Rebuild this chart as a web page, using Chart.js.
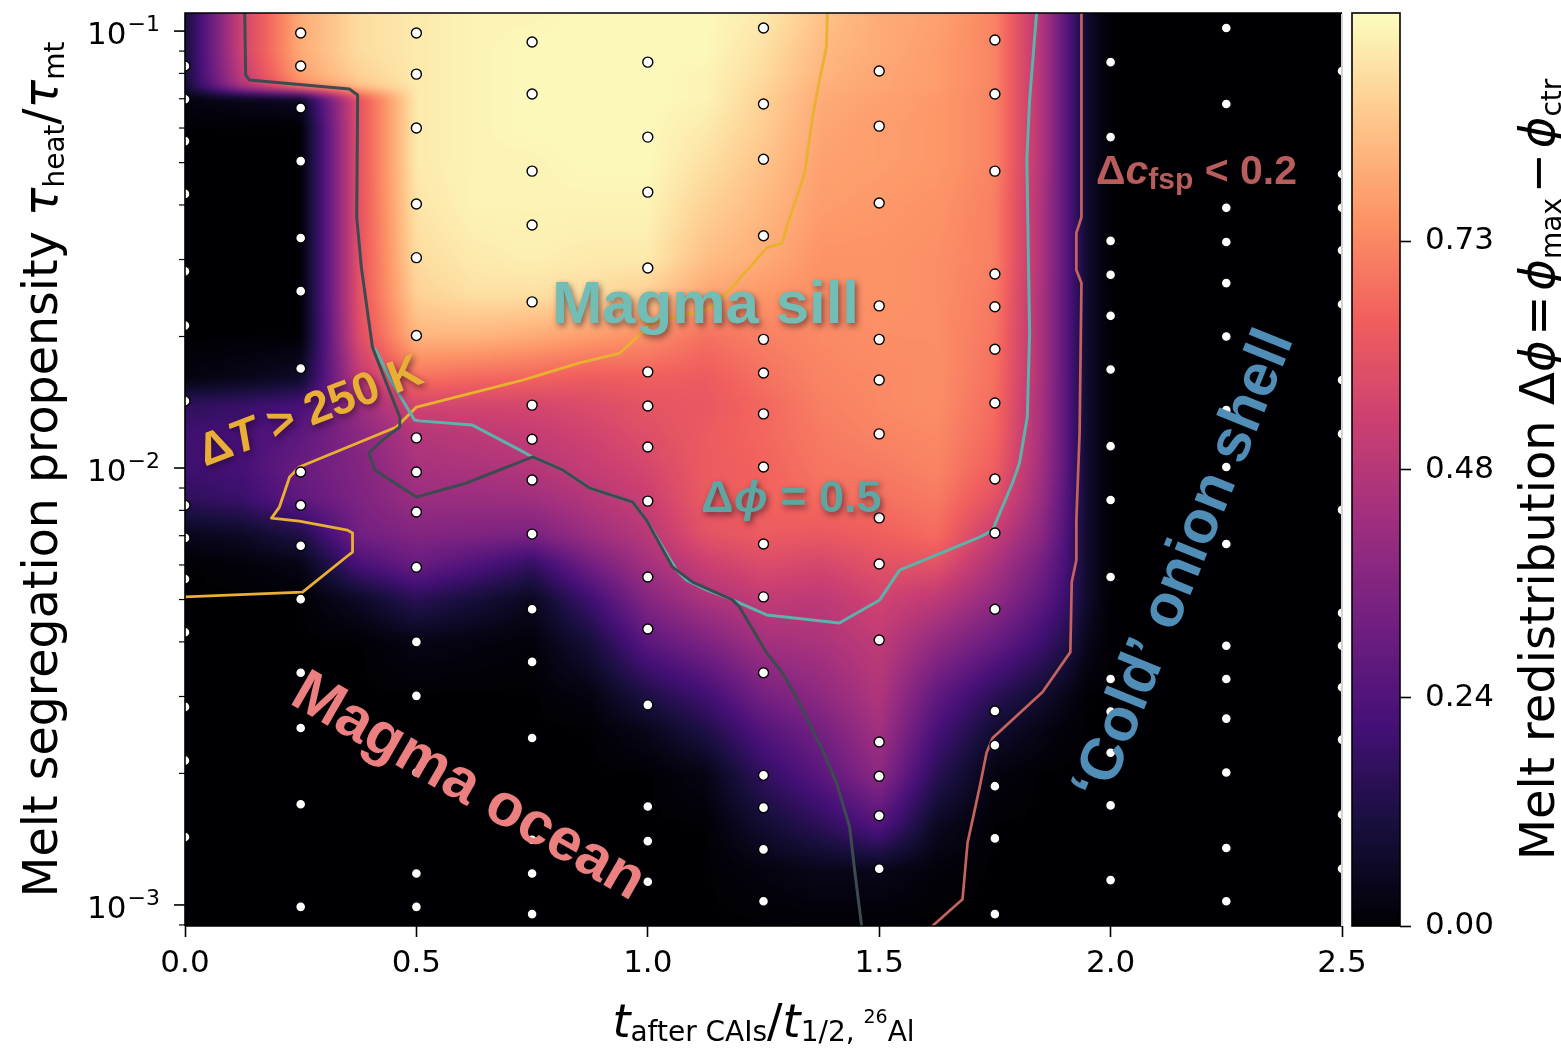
<!DOCTYPE html>
<html lang="en">
<head>
<meta charset="utf-8">
<title>Melt redistribution map</title>
<script src="https://cdn.jsdelivr.net/npm/chart.js@4.4.1/dist/chart.umd.min.js"></script>
<style>
  html, body { margin: 0; padding: 0; background: #ffffff; }
  #stage { position: relative; width: 1561px; height: 1049px; overflow: hidden; background: #ffffff; }
  #stage canvas { position: absolute; top: 0; }
  #mapCanvas { left: 0; }
  #barCanvas { left: 1342px; }
</style>
</head>
<body>
<div id="stage">
  <canvas id="mapCanvas" width="1561" height="1049"></canvas>
  <canvas id="barCanvas" width="219" height="1049"></canvas>
</div>
<script>
// ---------------------------------------------------------------------------
// Data
// ---------------------------------------------------------------------------

// Interpolation grid: time after CAIs in units of the 26Al half-life (columns)
const gridX = [0, 0.125, 0.25, 0.375, 0.5, 0.625, 0.75, 0.875, 1.0, 1.125, 1.25, 1.375, 1.5, 1.625, 1.75, 1.85, 1.9, 1.95, 2.0, 2.5];

// Interpolation grid: melt segregation propensity tau_heat / tau_mt (rows, top to bottom)
const gridTau = [0.11, 0.09, 0.08, 0.075, 0.07, 0.06, 0.05, 0.04, 0.03, 0.025, 0.02, 0.016, 0.014, 0.012, 0.01, 0.0085, 0.007, 0.006, 0.005, 0.004, 0.003, 0.0025, 0.002, 0.0015, 0.0012, 0.0009];

// Melt redistribution Δϕ = ϕmax − ϕctr, one list per gridX column, ordered like gridTau
const deltaPhi = [
  [0.10, 0.10, 0.10, 0.09, 0.02, 0, 0, 0, 0, 0, 0, 0.02, 0.16, 0.20, 0.20, 0.16, 0.04, 0, 0, 0, 0, 0, 0, 0, 0, 0],
  [0.55, 0.55, 0.52, 0.48, 0.04, 0, 0, 0, 0, 0, 0, 0.04, 0.18, 0.22, 0.22, 0.19, 0.06, 0.01, 0, 0, 0, 0, 0, 0, 0, 0],
  [0.80, 0.80, 0.78, 0.72, 0.06, 0, 0, 0, 0, 0, 0, 0.07, 0.22, 0.27, 0.30, 0.28, 0.12, 0.03, 0, 0, 0, 0, 0, 0, 0, 0],
  [0.90, 0.90, 0.88, 0.85, 0.60, 0.60, 0.60, 0.60, 0.60, 0.60, 0.58, 0.50, 0.42, 0.38, 0.36, 0.35, 0.32, 0.22, 0.06, 0, 0, 0, 0, 0, 0, 0],
  [0.93, 0.93, 0.93, 0.93, 0.93, 0.93, 0.93, 0.92, 0.90, 0.88, 0.82, 0.68, 0.56, 0.48, 0.45, 0.42, 0.36, 0.30, 0.15, 0.03, 0, 0, 0, 0, 0, 0],
  [0.95, 0.95, 0.95, 0.95, 0.95, 0.95, 0.95, 0.95, 0.93, 0.91, 0.82, 0.66, 0.56, 0.50, 0.46, 0.42, 0.35, 0.24, 0.10, 0.02, 0, 0, 0, 0, 0, 0],
  [0.95, 0.96, 0.96, 0.96, 0.96, 0.96, 0.95, 0.95, 0.94, 0.91, 0.80, 0.65, 0.56, 0.52, 0.48, 0.43, 0.34, 0.17, 0.05, 0.01, 0, 0, 0, 0, 0, 0],
  [0.96, 0.96, 0.96, 0.96, 0.96, 0.96, 0.96, 0.95, 0.93, 0.90, 0.77, 0.63, 0.58, 0.55, 0.52, 0.48, 0.42, 0.32, 0.20, 0.10, 0.02, 0, 0, 0, 0, 0],
  [0.96, 0.96, 0.96, 0.96, 0.96, 0.96, 0.96, 0.95, 0.93, 0.87, 0.74, 0.64, 0.61, 0.59, 0.56, 0.53, 0.49, 0.44, 0.37, 0.27, 0.12, 0.04, 0, 0, 0, 0],
  [0.96, 0.96, 0.95, 0.95, 0.95, 0.93, 0.91, 0.88, 0.84, 0.79, 0.68, 0.63, 0.62, 0.63, 0.63, 0.63, 0.60, 0.53, 0.46, 0.35, 0.20, 0.12, 0.03, 0, 0, 0],
  [0.93, 0.91, 0.90, 0.89, 0.88, 0.87, 0.85, 0.83, 0.80, 0.76, 0.71, 0.68, 0.66, 0.66, 0.65, 0.65, 0.63, 0.58, 0.51, 0.44, 0.33, 0.25, 0.17, 0.08, 0.02, 0],
  [0.85, 0.83, 0.82, 0.81, 0.80, 0.79, 0.78, 0.77, 0.75, 0.74, 0.73, 0.72, 0.71, 0.70, 0.69, 0.67, 0.62, 0.56, 0.50, 0.46, 0.39, 0.33, 0.27, 0.15, 0.04, 0],
  [0.80, 0.80, 0.79, 0.79, 0.78, 0.77, 0.77, 0.76, 0.75, 0.75, 0.74, 0.73, 0.73, 0.72, 0.70, 0.68, 0.64, 0.60, 0.55, 0.51, 0.47, 0.44, 0.39, 0.24, 0.04, 0],
  [0.78, 0.77, 0.77, 0.77, 0.76, 0.76, 0.76, 0.75, 0.74, 0.74, 0.74, 0.74, 0.74, 0.73, 0.72, 0.70, 0.67, 0.60, 0.50, 0.40, 0.28, 0.22, 0.15, 0.05, 0.01, 0],
  [0.72, 0.72, 0.72, 0.72, 0.72, 0.72, 0.72, 0.71, 0.71, 0.70, 0.69, 0.68, 0.67, 0.66, 0.64, 0.60, 0.52, 0.46, 0.40, 0.30, 0.15, 0.08, 0.02, 0, 0, 0],
  [0.48, 0.48, 0.48, 0.48, 0.48, 0.48, 0.48, 0.47, 0.47, 0.46, 0.46, 0.46, 0.45, 0.45, 0.44, 0.42, 0.38, 0.33, 0.28, 0.20, 0.08, 0.03, 0, 0, 0, 0],
  [0.28, 0.28, 0.28, 0.28, 0.28, 0.28, 0.28, 0.28, 0.28, 0.28, 0.28, 0.28, 0.28, 0.28, 0.28, 0.27, 0.25, 0.23, 0.20, 0.14, 0.04, 0.01, 0, 0, 0, 0],
  [0.07, 0.07, 0.07, 0.07, 0.07, 0.07, 0.07, 0.07, 0.07, 0.07, 0.07, 0.07, 0.07, 0.07, 0.07, 0.07, 0.07, 0.07, 0.07, 0.04, 0, 0, 0, 0, 0, 0],
  [0, 0, 0, 0, 0, 0, 0, 0, 0, 0, 0, 0, 0, 0, 0, 0, 0, 0, 0, 0, 0, 0, 0, 0, 0, 0],
  [0, 0, 0, 0, 0, 0, 0, 0, 0, 0, 0, 0, 0, 0, 0, 0, 0, 0, 0, 0, 0, 0, 0, 0, 0, 0]
];

// Upper end of the colour scale
const phiMax = 0.97;

// Simulation runs: onset times and the propensities run at each onset time
const runX = [0, 0.25, 0.5, 0.75, 1.0, 1.25, 1.5, 1.75, 2.0, 2.25, 2.5];
const runTau = [
  [0.0832, 0.0698, 0.0560, 0.0424, 0.0282, 0.0212, 0.01423, 0.00822, 0.00692, 0.00557, 0.00421, 0.00284, 0.00214, 0.00143],
  [0.0990, 0.0832, 0.0667, 0.0504, 0.0336, 0.0254, 0.0169, 0.00979, 0.00822, 0.00664, 0.00501, 0.00340, 0.00254, 0.00170, 0.00099],
  [0.0990, 0.0797, 0.0600, 0.0402, 0.0303, 0.0201, 0.01172, 0.00979, 0.00793, 0.00593, 0.00400, 0.00301, 0.00201, 0.00118, 0.00099],
  [0.0944, 0.0718, 0.0478, 0.0360, 0.0240, 0.01393, 0.01164, 0.00939, 0.00706, 0.00475, 0.00360, 0.00241, 0.00141, 0.00118, 0.000953],
  [0.0849, 0.0572, 0.0428, 0.0287, 0.0166, 0.01387, 0.01117, 0.00840, 0.00563, 0.00428, 0.00287, 0.00168, 0.00140, 0.00113],
  [0.1016, 0.0681, 0.0509, 0.0340, 0.0197, 0.0165, 0.01330, 0.01005, 0.00670, 0.00507, 0.00340, 0.00198, 0.00167, 0.00134, 0.00102],
  [0.0810, 0.0606, 0.0404, 0.0235, 0.0197, 0.0159, 0.01197, 0.00769, 0.00603, 0.00404, 0.00236, 0.00197, 0.00160, 0.00121],
  [0.0954, 0.0718, 0.0478, 0.0278, 0.0234, 0.0187, 0.01409, 0.00944, 0.00710, 0.00475, 0.00278, 0.00232, 0.00187, 0.00142, 0.000953],
  [0.0849, 0.0572, 0.0331, 0.0277, 0.0223, 0.0168, 0.01122, 0.00845, 0.00563, 0.00329, 0.00277, 0.00223, 0.00169, 0.00114],
  [0.1016, 0.0681, 0.0394, 0.0329, 0.0265, 0.0200, 0.01358, 0.01005, 0.00670, 0.00392, 0.00329, 0.00267, 0.00201, 0.00135, 0.00102],
  [0.0810, 0.0471, 0.0394, 0.0315, 0.0237, 0.0159, 0.01197, 0.00802, 0.00466, 0.00392, 0.00315, 0.00239, 0.00161, 0.00121]
];

// Boundary of the magma-ocean regime
const oceanX = [0.129, 0.131, 0.139, 0.355, 0.373, 0.371, 0.381, 0.405, 0.435, 0.464, 0.464, 0.427, 0.397, 0.410, 0.500, 0.608, 0.723, 0.751, 0.816, 0.874, 0.967, 0.997, 1.053, 1.097, 1.183, 1.198, 1.257, 1.291, 1.321, 1.378, 1.408, 1.436, 1.447, 1.462];
const oceanTau = [0.110, 0.0793, 0.0773, 0.0737, 0.0714, 0.0375, 0.0288, 0.0189, 0.01565, 0.01309, 0.01241, 0.01159, 0.01082, 0.00990, 0.00858, 0.00924, 0.01032, 0.01060, 0.00990, 0.00900, 0.00836, 0.00760, 0.00594, 0.00548, 0.00499, 0.00481, 0.00377, 0.00340, 0.00299, 0.00226, 0.00190, 0.00151, 0.00120, 0.000895];

// Contour Δϕ = 0.5
const phiHalfX = [1.840, 1.825, 1.819, 1.825, 1.820, 1.803, 1.788, 1.754, 1.745, 1.717, 1.544, 1.501, 1.414, 1.257, 1.183, 1.127, 1.084, 1.062, 0.997, 0.967, 0.874, 0.816, 0.751, 0.723, 0.621, 0.507, 0.496, 0.448, 0.410];
const phiHalfTau = [0.110, 0.0695, 0.0507, 0.0204, 0.01309, 0.01026, 0.00924, 0.00760, 0.00721, 0.00695, 0.00584, 0.00499, 0.00442, 0.00461, 0.00499, 0.00526, 0.00554, 0.00584, 0.00760, 0.00836, 0.00900, 0.00990, 0.01060, 0.01100, 0.01254, 0.01282, 0.01288, 0.01565, 0.01882];

// Contour ΔT = 250 K
const heatX = [1.388, 1.386, 1.371, 1.356, 1.339, 1.300, 1.291, 1.257, 1.183, 1.127, 1.010, 0.939, 0.852, 0.751, 0.723, 0.500, 0.457, 0.247, 0.226, 0.204, 0.187, 0.247, 0.351, 0.362, 0.362, 0.351, 0.254, 0.0];
const heatTau = [0.110, 0.0919, 0.0773, 0.0636, 0.0473, 0.0356, 0.0327, 0.0319, 0.0260, 0.0230, 0.0215, 0.0183, 0.0174, 0.01615, 0.01582, 0.01379, 0.01241, 0.01005, 0.00954, 0.00814, 0.00768, 0.00756, 0.00721, 0.00710, 0.00642, 0.00629, 0.00520, 0.00507];

// Contour Δc_fsp = 0.2
const fspX = [1.937, 1.937, 1.926, 1.926, 1.937, 1.933, 1.926, 1.926, 1.916, 1.913, 1.853, 1.745, 1.732, 1.717, 1.702, 1.691, 1.680, 1.615];
const fspTau = [0.110, 0.0375, 0.0345, 0.0284, 0.0265, 0.01202, 0.00760, 0.00616, 0.00548, 0.00379, 0.00307, 0.00241, 0.00223, 0.00186, 0.00157, 0.00139, 0.00103, 0.000895];

// Axis ticks
const xTicks = [0, 0.5, 1.0, 1.5, 2.0, 2.5];
const yTicks = [0.001, 0.01, 0.1];
const barTicks = [0, 0.2425, 0.485, 0.7275];

// ---------------------------------------------------------------------------
// Colour map (magma)
// ---------------------------------------------------------------------------
const MAGMA = ['#000004', '#180f3e', '#451077', '#721f81', '#9f2f7f', '#cd4071', '#f1605d', '#fd9567', '#fec98d', '#fcfdbf'];
const magmaLut = (() => {
  const stops = MAGMA.map(h => [1, 3, 5].map(i => parseInt(h.slice(i, i + 2), 16)));
  const lut = new Uint8ClampedArray(256 * 3);
  for (let i = 0; i < 256; i++) {
    const t = i / 255 * (stops.length - 1);
    const k = Math.min(Math.floor(t), stops.length - 2);
    const f = t - k;
    for (let c = 0; c < 3; c++) lut[i * 3 + c] = Math.round(stops[k][c] + (stops[k + 1][c] - stops[k][c]) * f);
  }
  return lut;
})();
function lutIndex(v) {
  return Math.max(0, Math.min(255, Math.round(v / phiMax * 255))) * 3;
}

// ---------------------------------------------------------------------------
// Text helpers
// ---------------------------------------------------------------------------
const SANS = '"DejaVu Sans"';
const BOLD_SANS = '"Liberation Sans", Arial, sans-serif';

function drawRich(ctx, parts, x, y, angleDeg, opt) {
  ctx.save();
  ctx.translate(x, y);
  ctx.rotate(angleDeg * Math.PI / 180);
  ctx.textBaseline = 'alphabetic';
  ctx.textAlign = 'left';
  const fam = opt.family;
  const fontOf = p => (p.italic ? 'italic ' : '') + (opt.bold ? 'bold ' : '') + p.size + 'px ' + fam;
  let total = 0;
  const widths = parts.map(p => {
    ctx.font = fontOf(p);
    const w = ctx.measureText(p.text).width;
    total += w;
    return w;
  });
  if (opt.shadow) {
    ctx.shadowColor = 'rgba(30, 10, 30, 0.55)';
    ctx.shadowBlur = 6;
    ctx.shadowOffsetX = 2;
    ctx.shadowOffsetY = 3;
  }
  ctx.fillStyle = opt.color;
  let cx = -total / 2;
  const base = opt.baseShift || 0;
  parts.forEach((p, i) => {
    ctx.font = fontOf(p);
    ctx.fillText(p.text, cx, base + (p.dy || 0));
    cx += widths[i];
  });
  ctx.restore();
}

// Region labels and contour labels, placed in data coordinates
const annotations = [
  { x: 1.125, tau: 0.0241, angle: 0, color: '#72bdb5', shadow: true,
    parts: [{ text: 'Magma sill', size: 60 }] },
  { x: 1.3105, tau: 0.00863, angle: 0, color: '#5da6a1', shadow: true,
    parts: [{ text: 'Δ', size: 45 }, { text: '\u03d5', size: 45, italic: true }, { text: ' = 0.5', size: 45 }] },
  { x: 2.1856, tau: 0.0483, angle: 0, color: '#b85c5c', shadow: false,
    parts: [{ text: 'Δ', size: 41 }, { text: 'c', size: 41, italic: true }, { text: 'fsp', size: 30, dy: 5 }, { text: ' < 0.2', size: 41 }] },
  { x: 0.269, tau: 0.01365, angle: -21, color: '#e9ae34', shadow: true,
    parts: [{ text: 'Δ', size: 46 }, { text: 'T', size: 46, italic: true }, { text: ' > 250 K', size: 46 }] },
  { x: 0.6169, tau: 0.00190, angle: 30, color: '#ec8080', shadow: false,
    parts: [{ text: 'Magma ocean', size: 60 }] },
  { x: 2.150, tau: 0.00606, angle: -68, color: '#508eb7', shadow: false,
    parts: [{ text: '\u2018Cold\u2019 onion shell', size: 60 }] }
];

// ---------------------------------------------------------------------------
// Plugins
// ---------------------------------------------------------------------------
const meltFieldPlugin = {
  id: 'meltField',
  beforeDatasetsDraw(chart) {
    const { ctx, chartArea: a } = chart;
    const xs = chart.scales.x, ys = chart.scales.y;
    const pad = 16;
    const W = Math.ceil(a.right - a.left) + 2 * pad;
    const H = Math.ceil(a.bottom - a.top) + 2 * pad;
    const off = document.createElement('canvas');
    off.width = W; off.height = H;
    const octx = off.getContext('2d');
    const img = octx.createImageData(W, H);
    const logTau = gridTau.map(Math.log10);
    const nx = gridX.length, ny = logTau.length;

    const colI = new Int32Array(W), colF = new Float32Array(W);
    for (let i = 0; i < W; i++) {
      let v = xs.getValueForPixel(a.left - pad + i + 0.5);
      v = Math.min(Math.max(v, gridX[0]), gridX[nx - 1]);
      let k = 0;
      while (k < nx - 2 && v > gridX[k + 1]) k++;
      colI[i] = k;
      colF[i] = (v - gridX[k]) / (gridX[k + 1] - gridX[k]);
    }
    const rowI = new Int32Array(H), rowF = new Float32Array(H);
    for (let j = 0; j < H; j++) {
      let lv = Math.log10(ys.getValueForPixel(a.top - pad + j + 0.5));
      lv = Math.min(Math.max(lv, logTau[ny - 1]), logTau[0]);
      let k = 0;
      while (k < ny - 2 && lv < logTau[k + 1]) k++;
      rowI[j] = k;
      rowF[j] = (logTau[k] - lv) / (logTau[k] - logTau[k + 1]);
    }
    const d = img.data;
    for (let j = 0; j < H; j++) {
      const r = rowI[j], fr = rowF[j];
      for (let i = 0; i < W; i++) {
        const c = colI[i], fc = colF[i];
        const top = deltaPhi[c][r] * (1 - fc) + deltaPhi[c + 1][r] * fc;
        const bot = deltaPhi[c][r + 1] * (1 - fc) + deltaPhi[c + 1][r + 1] * fc;
        const li = lutIndex(top * (1 - fr) + bot * fr);
        const p = (j * W + i) * 4;
        d[p] = magmaLut[li]; d[p + 1] = magmaLut[li + 1]; d[p + 2] = magmaLut[li + 2]; d[p + 3] = 255;
      }
    }
    octx.putImageData(img, 0, 0);

    ctx.save();
    ctx.beginPath();
    ctx.rect(a.left, a.top, a.right - a.left, a.bottom - a.top);
    ctx.clip();
    ctx.filter = 'blur(3px)';
    ctx.drawImage(off, a.left - pad, a.top - pad);
    ctx.restore();
  }
};

const annotationPlugin = {
  id: 'regimeLabels',
  afterDatasetsDraw(chart) {
    const { ctx } = chart;
    const xs = chart.scales.x, ys = chart.scales.y;
    annotations.forEach(an => {
      const px = xs.getPixelForValue(an.x);
      const py = ys.getPixelForValue(an.tau);
      const size = an.parts[0].size;
      drawRich(ctx, an.parts, px, py, an.angle, {
        family: BOLD_SANS, bold: true, color: an.color, shadow: an.shadow, baseShift: size * 0.36
      });
    });
  }
};

const axesPlugin = {
  id: 'axesDecor',
  afterDraw(chart) {
    const { ctx, chartArea: a } = chart;
    const ys = chart.scales.y;
    ctx.save();

    // Spines
    ctx.lineWidth = 1.6;
    ctx.strokeStyle = '#000';
    ctx.beginPath();
    ctx.moveTo(a.left, a.bottom); ctx.lineTo(a.left, a.top); ctx.lineTo(a.right, a.top);
    ctx.moveTo(a.left, a.bottom); ctx.lineTo(a.right, a.bottom);
    ctx.stroke();
    ctx.strokeStyle = '#d4d4d4';
    ctx.lineWidth = 2;
    ctx.beginPath(); ctx.moveTo(a.right, a.top + 1); ctx.lineTo(a.right, a.bottom); ctx.stroke();

    // Log-axis minor ticks
    ctx.strokeStyle = '#000';
    ctx.lineWidth = 1.2;
    const lo = Math.floor(Math.log10(ys.min)), hi = Math.ceil(Math.log10(ys.max));
    for (let e = lo; e <= hi; e++) {
      for (let k = 2; k <= 9; k++) {
        const v = k * Math.pow(10, e);
        if (v < ys.min || v > ys.max) continue;
        const py = ys.getPixelForValue(v);
        ctx.beginPath(); ctx.moveTo(a.left - 6, py); ctx.lineTo(a.left, py); ctx.stroke();
      }
    }
    // Major ticks and power-of-ten labels
    ctx.lineWidth = 1.6;
    ctx.fillStyle = '#000';
    ctx.textBaseline = 'alphabetic';
    ctx.textAlign = 'left';
    yTicks.forEach(v => {
      const py = ys.getPixelForValue(v);
      ctx.beginPath(); ctx.moveTo(a.left - 11, py); ctx.lineTo(a.left, py); ctx.stroke();
      const exp = Math.round(Math.log10(v));
      const sup = (exp < 0 ? '\u2212' : '') + Math.abs(exp);
      ctx.font = '22px ' + SANS;
      const ws = ctx.measureText(sup).width;
      ctx.font = '31px ' + SANS;
      const wm = ctx.measureText('10').width;
      const right = a.left - 25;
      ctx.fillText('10', right - ws - wm - 1, py + 13);
      ctx.font = '22px ' + SANS;
      ctx.fillText(sup, right - ws, py);
    });

    // Axis titles
    const xParts = [
      { text: 't', size: 46, italic: true },
      { text: 'after CAIs', size: 28, dy: 4 },
      { text: '/', size: 46 },
      { text: 't', size: 46, italic: true },
      { text: '1/2, ', size: 28, dy: 4 },
      { text: '26', size: 19, dy: -14 },
      { text: 'Al', size: 28, dy: 4 }
    ];
    drawRich(ctx, xParts, (a.left + a.right) / 2, 1037, 0, { family: SANS, color: '#000' });

    const yParts = [
      { text: 'Melt segregation propensity ', size: 47.5 },
      { text: 'τ', size: 47.5, italic: true },
      { text: 'heat', size: 28, dy: 7 },
      { text: '/', size: 47.5 },
      { text: 'τ', size: 47.5, italic: true },
      { text: 'mt', size: 28, dy: 7 }
    ];
    drawRich(ctx, yParts, 57, (a.top + a.bottom) / 2, -90, { family: SANS, color: '#000' });
    ctx.restore();
  }
};

const colourBarPlugin = {
  id: 'colourBar',
  beforeDatasetsDraw(chart) {
    const { ctx, chartArea: a } = chart;
    const ys = chart.scales.y;
    for (let py = Math.floor(a.top); py < Math.ceil(a.bottom); py++) {
      const li = lutIndex(ys.getValueForPixel(py + 0.5));
      ctx.fillStyle = 'rgb(' + magmaLut[li] + ',' + magmaLut[li + 1] + ',' + magmaLut[li + 2] + ')';
      ctx.fillRect(a.left, py, a.right - a.left, 1);
    }
  },
  afterDraw(chart) {
    const { ctx, chartArea: a } = chart;
    ctx.save();
    ctx.strokeStyle = '#000';
    ctx.lineWidth = 1.6;
    ctx.strokeRect(a.left, a.top, a.right - a.left, a.bottom - a.top);
    const parts = [
      { text: 'Melt redistribution ', size: 48 },
      { text: 'Δ', size: 48 },
      { text: '\u03d5', size: 48, italic: true },
      { text: '\u200a=\u200a', size: 48 },
      { text: '\u03d5', size: 48, italic: true },
      { text: 'max', size: 28, dy: 7 },
      { text: '\u200a\u2212\u200a', size: 48 },
      { text: '\u03d5', size: 48, italic: true },
      { text: 'ctr', size: 28, dy: 7 }
    ];
    drawRich(ctx, parts, 212, (a.top + a.bottom) / 2, -90, { family: SANS, color: '#000' });
    ctx.restore();
  }
};

// ---------------------------------------------------------------------------
// Charts
// ---------------------------------------------------------------------------
Chart.defaults.font.family = 'DejaVu Sans';

const runPoints = runX.flatMap((x, i) => runTau[i].map(t => ({ x, y: t })));
const toXY = (xs, ts) => xs.map((x, i) => ({ x, y: ts[i] }));
const contourStyle = { type: 'line', pointRadius: 0, pointHoverRadius: 0, tension: 0, fill: false, clip: 0, borderJoinStyle: 'round', borderCapStyle: 'butt' };

new Chart(document.getElementById('mapCanvas'), {
  type: 'scatter',
  data: {
    datasets: [
      { label: 'Simulation runs', data: runPoints, order: 0, clip: 0,
        pointRadius: 5, pointHoverRadius: 5, pointBackgroundColor: '#ffffff',
        pointBorderColor: '#000000', pointBorderWidth: 1.4 },
      Object.assign({ label: 'Magma ocean boundary', data: toXY(oceanX, oceanTau), borderColor: '#3d4b51', borderWidth: 3, order: 1 }, contourStyle),
      Object.assign({ label: 'Δϕ = 0.5', data: toXY(phiHalfX, phiHalfTau), borderColor: '#5cb3aa', borderWidth: 3, order: 2 }, contourStyle),
      Object.assign({ label: 'ΔT > 250 K', data: toXY(heatX, heatTau), borderColor: '#eab030', borderWidth: 2.8, order: 3 }, contourStyle),
      Object.assign({ label: 'Δc_fsp < 0.2', data: toXY(fspX, fspTau), borderColor: '#c2635e', borderWidth: 2.7, order: 4 }, contourStyle)
    ]
  },
  options: {
    responsive: false,
    animation: false,
    devicePixelRatio: 1,
    events: [],
    layout: { padding: { left: 0, right: 219, top: 13, bottom: 0 } },
    plugins: { legend: { display: false }, tooltip: { enabled: false } },
    scales: {
      x: {
        type: 'linear', position: 'bottom', min: 0, max: 2.5,
        afterBuildTicks: s => { s.ticks = xTicks.map(v => ({ value: v })); },
        afterFit: s => { s.height = 123; },
        ticks: { callback: v => Number(v).toFixed(1), color: '#000', font: { family: 'DejaVu Sans', size: 31 }, padding: 8, maxRotation: 0, autoSkip: false },
        grid: { drawOnChartArea: false, drawTicks: true, tickLength: 11, tickWidth: 1.6, tickColor: '#000' },
        border: { display: false }
      },
      y: {
        type: 'logarithmic', position: 'left', min: 0.000895, max: 0.110,
        afterBuildTicks: s => { s.ticks = yTicks.map(v => ({ value: v })); },
        afterFit: s => { s.width = 185; },
        ticks: { display: false },
        grid: { display: false },
        border: { display: false }
      }
    }
  },
  plugins: [meltFieldPlugin, annotationPlugin, axesPlugin]
});

new Chart(document.getElementById('barCanvas'), {
  type: 'scatter',
  data: { datasets: [] },
  options: {
    responsive: false,
    animation: false,
    devicePixelRatio: 1,
    events: [],
    layout: { padding: { left: 10, right: 0, top: 13, bottom: 123 } },
    plugins: { legend: { display: false }, tooltip: { enabled: false } },
    scales: {
      x: { type: 'linear', display: false, min: 0, max: 1 },
      y: {
        type: 'linear', position: 'right', min: 0, max: phiMax,
        afterBuildTicks: s => { s.ticks = barTicks.map(v => ({ value: v })); },
        afterFit: s => { s.width = 161; s.paddingTop = 0; s.paddingBottom = 0; },
        ticks: { callback: v => Number(v).toFixed(2), color: '#000', font: { family: 'DejaVu Sans', size: 31 }, padding: 14 },
        grid: { drawOnChartArea: false, drawTicks: true, tickLength: 11, tickWidth: 1.6, tickColor: '#000' },
        border: { display: false }
      }
    }
  },
  plugins: [colourBarPlugin]
});
</script>
</body>
</html>
